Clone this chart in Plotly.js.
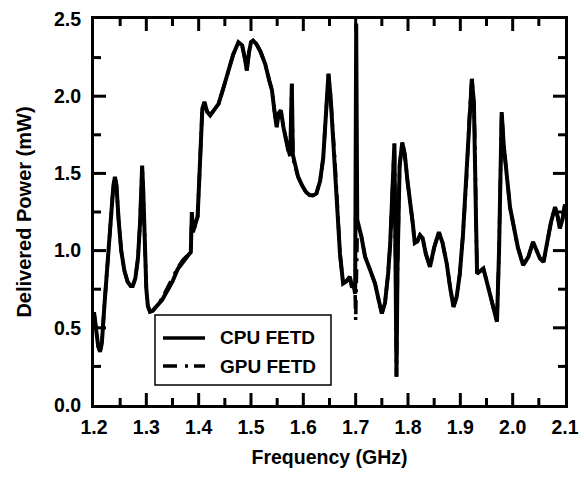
<!DOCTYPE html>
<html>
<head>
<meta charset="utf-8">
<script src="https://cdn.plot.ly/plotly-3.0.1.min.js"></script>
<style>html,body{margin:0;padding:0;background:#fff;}#chart{width:584px;height:478px;}</style>
</head>
<body>
<div id="chart"></div>
<script>
// Frequency (GHz)
const freqCPU = [1.200,1.204,1.208,1.2115,1.215,1.220,1.226,1.232,1.237,1.240,1.243,1.247,1.252,1.258,1.264,1.270,1.274,1.279,1.284,1.288,1.291,1.292,1.294,1.297,1.300,1.303,1.307,1.312,1.320,1.330,1.340,1.350,1.360,1.370,1.380,1.385,1.387,1.389,1.393,1.398,1.401,1.404,1.407,1.411,1.416,1.422,1.430,1.438,1.447,1.457,1.466,1.476,1.483,1.488,1.492,1.496,1.500,1.504,1.510,1.518,1.527,1.535,1.540,1.545,1.549,1.553,1.557,1.562,1.567,1.571,1.575,1.578,1.580,1.584,1.590,1.598,1.605,1.612,1.618,1.625,1.632,1.638,1.643,1.648,1.652,1.656,1.660,1.665,1.670,1.676,1.682,1.689,1.693,1.696,1.699,1.701,1.703,1.711,1.718,1.727,1.737,1.744,1.750,1.756,1.762,1.766,1.770,1.774,1.776,1.778,1.780,1.784,1.789,1.794,1.799,1.804,1.809,1.813,1.818,1.823,1.828,1.834,1.842,1.850,1.859,1.866,1.874,1.881,1.887,1.893,1.899,1.905,1.912,1.917,1.922,1.926,1.928,1.930,1.932,1.938,1.944,1.949,1.953,1.960,1.966,1.970,1.974,1.977,1.979,1.983,1.989,1.995,2.001,2.010,2.020,2.030,2.039,2.045,2.052,2.059,2.066,2.073,2.081,2.086,2.090,2.095,2.100];
// Delivered power (mW), CPU FETD
const powerCPU = [0.60,0.48,0.38,0.345,0.40,0.65,0.95,1.22,1.42,1.477,1.42,1.20,1.00,0.87,0.80,0.77,0.77,0.82,0.95,1.18,1.45,1.55,1.40,1.00,0.75,0.64,0.604,0.61,0.64,0.68,0.74,0.80,0.88,0.93,0.97,0.99,1.25,1.12,1.16,1.22,1.45,1.75,1.92,1.962,1.90,1.876,1.91,1.95,2.05,2.17,2.27,2.35,2.33,2.25,2.167,2.28,2.35,2.36,2.34,2.29,2.21,2.10,2.04,1.90,1.80,1.89,1.908,1.80,1.72,1.65,1.62,2.08,1.62,1.55,1.477,1.42,1.38,1.36,1.357,1.37,1.45,1.60,1.85,2.145,2.00,1.75,1.60,1.30,0.98,0.787,0.80,0.83,0.76,0.78,0.72,2.47,1.20,1.09,0.96,0.88,0.787,0.68,0.593,0.66,0.85,1.046,1.35,1.693,1.00,0.183,0.90,1.55,1.70,1.62,1.45,1.326,1.18,1.05,1.06,1.10,1.08,0.98,0.895,1.02,1.12,1.05,0.916,0.75,0.636,0.70,0.85,1.10,1.477,1.85,2.113,1.95,1.69,1.20,0.85,0.87,0.884,0.82,0.765,0.67,0.58,0.539,1.00,1.60,1.897,1.68,1.455,1.28,1.175,1.02,0.906,0.96,1.056,1.00,0.95,0.927,1.05,1.18,1.283,1.22,1.143,1.20,1.30];
// GPU FETD (nearly coincident with CPU; dips near 1.70 GHz)
const freqGPU = [1.200,1.204,1.208,1.2115,1.215,1.220,1.226,1.232,1.237,1.240,1.243,1.247,1.252,1.258,1.264,1.270,1.274,1.279,1.284,1.288,1.291,1.292,1.294,1.297,1.300,1.303,1.307,1.312,1.320,1.330,1.340,1.350,1.360,1.370,1.380,1.385,1.387,1.389,1.393,1.398,1.401,1.404,1.407,1.411,1.416,1.422,1.430,1.438,1.447,1.457,1.466,1.476,1.483,1.488,1.492,1.496,1.500,1.504,1.510,1.518,1.527,1.535,1.540,1.545,1.549,1.553,1.557,1.562,1.567,1.571,1.575,1.578,1.580,1.584,1.590,1.598,1.605,1.612,1.618,1.625,1.632,1.638,1.643,1.648,1.652,1.656,1.660,1.665,1.670,1.676,1.682,1.689,1.693,1.696,1.699,1.700,1.703,1.711,1.718,1.727,1.737,1.744,1.750,1.756,1.762,1.766,1.770,1.774,1.776,1.778,1.780,1.784,1.789,1.794,1.799,1.804,1.809,1.813,1.818,1.823,1.828,1.834,1.842,1.850,1.859,1.866,1.874,1.881,1.887,1.893,1.899,1.905,1.912,1.917,1.922,1.926,1.928,1.930,1.932,1.938,1.944,1.949,1.953,1.960,1.966,1.970,1.974,1.977,1.979,1.983,1.989,1.995,2.001,2.010,2.020,2.030,2.039,2.045,2.052,2.059,2.066,2.073,2.081,2.086,2.090,2.095,2.100];
const powerGPU = [0.60,0.48,0.38,0.345,0.40,0.65,0.95,1.22,1.42,1.477,1.42,1.20,1.00,0.87,0.80,0.77,0.77,0.82,0.95,1.18,1.45,1.55,1.40,1.00,0.75,0.64,0.604,0.61,0.64,0.69,0.76,0.83,0.89,0.94,0.97,0.99,1.25,1.12,1.16,1.22,1.45,1.75,1.92,1.962,1.90,1.876,1.91,1.95,2.05,2.17,2.27,2.35,2.33,2.25,2.167,2.28,2.35,2.36,2.34,2.29,2.21,2.10,2.04,1.90,1.80,1.89,1.908,1.80,1.72,1.65,1.60,2.08,1.60,1.55,1.477,1.42,1.38,1.36,1.357,1.37,1.45,1.60,1.85,2.145,2.00,1.75,1.60,1.30,0.98,0.787,0.80,0.83,0.76,0.78,0.72,0.55,1.10,1.09,0.96,0.88,0.787,0.68,0.593,0.66,0.85,1.046,1.35,1.693,1.00,0.183,0.90,1.55,1.70,1.62,1.45,1.326,1.18,1.05,1.06,1.10,1.08,0.98,0.895,1.02,1.12,1.05,0.916,0.75,0.636,0.70,0.85,1.10,1.477,1.85,2.113,1.95,1.69,1.20,0.85,0.87,0.884,0.82,0.765,0.67,0.58,0.539,1.00,1.60,1.897,1.68,1.455,1.28,1.175,1.02,0.906,0.96,1.056,1.00,0.95,0.927,1.05,1.18,1.283,1.22,1.143,1.20,1.30];
const seriesNames = ['CPU FETD', 'GPU FETD'];
const xTickVals = [1.2,1.3,1.4,1.5,1.6,1.7,1.8,1.9,2.0,2.1];
const xTickText = ['1.2','1.3','1.4','1.5','1.6','1.7','1.8','1.9','2.0','2.1'];
const yTickVals = [0,0.5,1.0,1.5,2.0,2.5];
const yTickText = ['0.0','0.5','1.0','1.5','2.0','2.5'];
const xMajorMarks = [1.3,1.4,1.5,1.6,1.7,1.8,1.9,2.0];
const xMinorMarks = [1.25,1.35,1.45,1.55,1.65,1.75,1.85,1.95,2.05];
const yMajorMarks = [0.5,1.0,1.5,2.0];
const yMinorMarks = [0.25,0.75,1.25,1.75,2.25];
const xRange = [1.2, 2.1];
const yRange = [0, 2.5];

const FONT = 'Arial, "Liberation Sans", sans-serif';
const BLACK = '#000';
const b = s => '<b>' + s + '</b>';
const DASH = '14px,8px,3px,6px';

const W = 584, H = 478, M = {l: 94, r: 19, t: 19, b: 73};
const plotW = W - M.l - M.r, plotH = H - M.t - M.b;
// pixel length -> axis units
const xPx = px => px * (xRange[1] - xRange[0]) / plotW;
const yPx = px => px * (yRange[1] - yRange[0]) / plotH;

// inside, mirrored tick marks built from the tick arrays (drawn as line segments on the axes)
const tickX = [], tickY = [];
function xTick(v, len) {
  tickX.push(v, v, null, v, v, null);
  tickY.push(yRange[0], yRange[0] + yPx(len), null, yRange[1], yRange[1] - yPx(len), null);
}
function yTick(v, len) {
  tickX.push(xRange[0], xRange[0] + xPx(len), null, xRange[1], xRange[1] - xPx(len), null);
  tickY.push(v, v, null, v, v, null);
}
xMajorMarks.forEach(v => xTick(v, 12));
xMinorMarks.forEach(v => xTick(v, 7));
yMajorMarks.forEach(v => yTick(v, 12));
yMinorMarks.forEach(v => yTick(v, 7));

const traces = [
  {x: freqCPU, y: powerCPU, name: seriesNames[0], type: 'scatter', mode: 'lines',
   line: {color: BLACK, width: 4}, showlegend: false},
  {x: freqGPU, y: powerGPU, name: seriesNames[1], type: 'scatter', mode: 'lines',
   line: {color: BLACK, width: 3.5, dash: DASH}, showlegend: false},
  {x: tickX, y: tickY, name: 'ticks', type: 'scatter', mode: 'lines', connectgaps: false,
   line: {color: BLACK, width: 3}, showlegend: false, hoverinfo: 'skip'}
];

// legend box and samples
const shapes = [
  {type: 'rect', xref: 'paper', yref: 'paper', x0: 0.1295, x1: 0.5032, y0: 0.0518, y1: 0.2332,
   fillcolor: '#fff', line: {color: BLACK, width: 1.5}},
  {type: 'line', xref: 'paper', yref: 'paper', x0: 0.1465, x1: 0.2357, y0: 0.1736, y1: 0.1736,
   line: {color: BLACK, width: 3.5}},
  {type: 'line', xref: 'paper', yref: 'paper', x0: 0.1465, x1: 0.2357, y0: 0.1010, y1: 0.1010,
   line: {color: BLACK, width: 3.5, dash: DASH}}
];

const legendFont = {family: FONT, size: 19, color: BLACK, weight: 'bold'};
const annotations = [
  {xref: 'paper', yref: 'paper', x: 0.2633, y: 0.1736, xanchor: 'left', yanchor: 'middle',
   text: b(seriesNames[0]), showarrow: false, font: legendFont},
  {xref: 'paper', yref: 'paper', x: 0.2633, y: 0.1010, xanchor: 'left', yanchor: 'middle',
   text: b(seriesNames[1]), showarrow: false, font: legendFont}
];

const tickFont = {family: FONT, size: 19.5, color: BLACK, weight: 'bold'};
const axisBase = {showline: true, linecolor: BLACK, linewidth: 3, mirror: true, ticks: '',
  showgrid: false, zeroline: false, tickfont: tickFont, tickmode: 'array'};
const layout = {
  width: W, height: H,
  margin: M,
  paper_bgcolor: '#fff', plot_bgcolor: '#fff',
  showlegend: false,
  shapes: shapes,
  annotations: annotations,
  xaxis: Object.assign({}, axisBase, {
    range: xRange, tickvals: xTickVals, ticktext: xTickText.map(b),
    ticklabelstandoff: 3,
    title: {text: b('Frequency (GHz)'), font: {family: FONT, size: 19.5, color: BLACK, weight: 'bold'}, standoff: 13}
  }),
  yaxis: Object.assign({}, axisBase, {
    range: yRange, tickvals: yTickVals, ticktext: yTickText.map(b),
    ticklabelstandoff: 6,
    title: {text: b('Delivered Power (mW)'), font: {family: FONT, size: 20, color: BLACK, weight: 'bold'}, standoff: 17}
  })
};
Plotly.newPlot('chart', traces, layout, {displayModeBar: false});
</script>
</body>
</html>
